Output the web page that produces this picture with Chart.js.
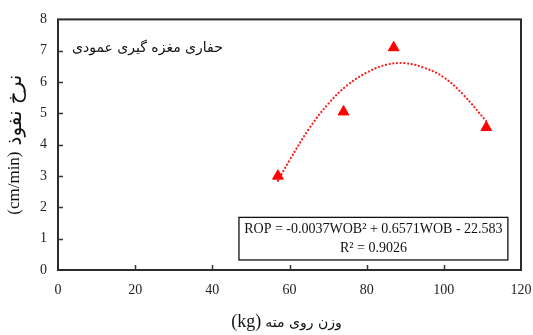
<!DOCTYPE html>
<html>
<head>
<meta charset="utf-8">
<script src="https://cdn.jsdelivr.net/npm/chart.js@4"></script>
<style>
  body { margin: 0; background: #fff; }
  canvas { display: block; }
</style>
</head>
<body>
<canvas id="rop" width="533" height="335"></canvas>
<script>
// measured points (weight on bit vs penetration rate)
const wob = [57, 74, 87, 111];
const rop = [3.0, 5.05, 7.1, 4.55];

// dotted trend curve
const fitX = [57, 60, 65, 70, 75, 80, 85, 90, 95, 100, 105, 111];
const fitY = [2.85, 3.5, 4.5, 5.3, 5.9, 6.3, 6.55, 6.6, 6.45, 6.15, 5.6, 4.75];

const chartTitle = 'حفاری مغزه گیری عمودی';
const eqLine1 = 'ROP = -0.0037WOB² + 0.6571WOB - 22.583';
const eqLine2 = 'R² = 0.9026';
const xTitleUnit = '(kg)';
const xTitleText = 'وزن روی مته';
const yTitleUnit = '(cm/min)';
const yTitleText = 'نرخ نفوذ';

const serif = '"Liberation Serif", "DejaVu Serif", serif';
const arabic = '"DejaVu Sans", "Noto Sans", sans-serif';

// unit in serif + persian words, drawn side by side around a centre
function mixedTitle(ctx, cx, cy, unit, unitFont, text, textFont, gap) {
    ctx.font = unitFont;
    const w1 = ctx.measureText(unit).width;
    ctx.font = textFont;
    const w2 = ctx.measureText(text).width;
    const x0 = cx - (w1 + gap + w2) / 2;
    ctx.textAlign = 'left';
    ctx.textBaseline = 'middle';
    ctx.font = unitFont;
    ctx.fillText(unit, x0, cy);
    ctx.font = textFont;
    ctx.fillText(text, x0 + w1 + gap, cy + 1);
}

// frame, inward tick marks, titles and equation box
const extras = {
    id: 'extras',
    afterDraw(chart) {
        const ctx = chart.ctx;
        const a = chart.chartArea;
        const xs = chart.scales.x, ys = chart.scales.y;
        ctx.save();
        ctx.strokeStyle = '#333';
        ctx.lineWidth = 1.5;
        ctx.beginPath();
        xs.ticks.forEach(t => {
            if (t.value <= 0 || t.value >= 120) return;
            const px = Math.round(xs.getPixelForValue(t.value)) + 0.5;
            ctx.moveTo(px, a.bottom);
            ctx.lineTo(px, a.bottom - 5);
        });
        ys.ticks.forEach(t => {
            if (t.value <= 0 || t.value >= 8) return;
            const py = Math.round(ys.getPixelForValue(t.value)) + 0.5;
            ctx.moveTo(a.left, py);
            ctx.lineTo(a.left + 5, py);
        });
        ctx.stroke();
        ctx.lineWidth = 2;
        ctx.strokeStyle = '#2b2b2b';
        ctx.strokeRect(a.left, a.top, a.right - a.left, a.bottom - a.top);

        // title inside the plot
        ctx.fillStyle = '#111';
        ctx.font = '14px ' + arabic;
        ctx.textAlign = 'left';
        ctx.textBaseline = 'middle';
        ctx.fillText(chartTitle, a.left + 14, a.top + 29);

        // axis titles
        mixedTitle(ctx, (a.left + a.right) / 2 - 3, 322, xTitleUnit, '18px ' + serif,
            xTitleText, '14px ' + arabic, 4);
        ctx.save();
        ctx.translate(15, (a.top + a.bottom) / 2);
        ctx.rotate(-Math.PI / 2);
        mixedTitle(ctx, 0, 0, yTitleUnit, '17px ' + serif,
            yTitleText, '20px ' + arabic, 6);
        ctx.restore();

        // equation box
        const bx = xs.getPixelForValue(46.9), bw = xs.getPixelForValue(116.6) - bx;
        const by = ys.getPixelForValue(1.68), bh = ys.getPixelForValue(0.32) - by;
        ctx.fillStyle = '#fff';
        ctx.fillRect(bx, by, bw, bh);
        ctx.lineWidth = 1.3;
        ctx.strokeStyle = '#111';
        ctx.strokeRect(bx, by, bw, bh);
        ctx.fillStyle = '#111';
        ctx.font = '14px ' + serif;
        ctx.textAlign = 'center';
        ctx.textBaseline = 'middle';
        ctx.fillText(eqLine1, bx + bw / 2, by + 12);
        ctx.fillText(eqLine2, bx + bw / 2, by + 31);
        ctx.restore();
    }
};

const data = {
    datasets: [
        {
            label: 'trend',
            data: fitX.map((x, i) => ({ x: x, y: fitY[i] })),
            showLine: true,
            borderColor: '#ff1a1a',
            borderWidth: 2.2,
            borderDash: [0.1, 3.6],
            borderCapStyle: 'round',
            tension: 0.4,
            pointRadius: 0,
            order: 2,
        },
        {
            label: 'data',
            data: wob.map((x, i) => ({ x: x, y: rop[i] })),
            pointStyle: 'triangle',
            pointRadius: 6.2,
            backgroundColor: '#ff0000',
            borderColor: '#ff0000',
            borderWidth: 1,
            order: 1,
        }
    ]
};

const config = {
    type: 'scatter',
    data: data,
    plugins: [extras],
    options: {
        responsive: false,
        animation: false,
        layout: {
            padding: { top: 13, right: 0, left: 0, bottom: 0 }
        },
        plugins: {
            legend: { display: false },
            tooltip: { enabled: false },
        },
        scales: {
            x: {
                min: 0,
                max: 120,
                border: { display: false },
                grid: { display: false, drawTicks: false },
                ticks: {
                    stepSize: 20,
                    padding: 12,
                    color: '#222',
                    font: { family: serif, size: 14 },
                    maxRotation: 0,
                },
                afterFit: function (scale) {
                    scale.height = 65;
                    scale.paddingRight = 12;
                }
            },
            y: {
                min: 0,
                max: 8,
                border: { display: false },
                grid: { display: false, drawTicks: false },
                ticks: {
                    stepSize: 1,
                    padding: 11,
                    color: '#222',
                    font: { family: serif, size: 14 },
                },
                afterFit: function (scale) { scale.width = 58; }
            }
        }
    }
};

var ctx = document.getElementById('rop').getContext('2d');
var ropChart = new Chart(ctx, config);
</script>
</body>
</html>
